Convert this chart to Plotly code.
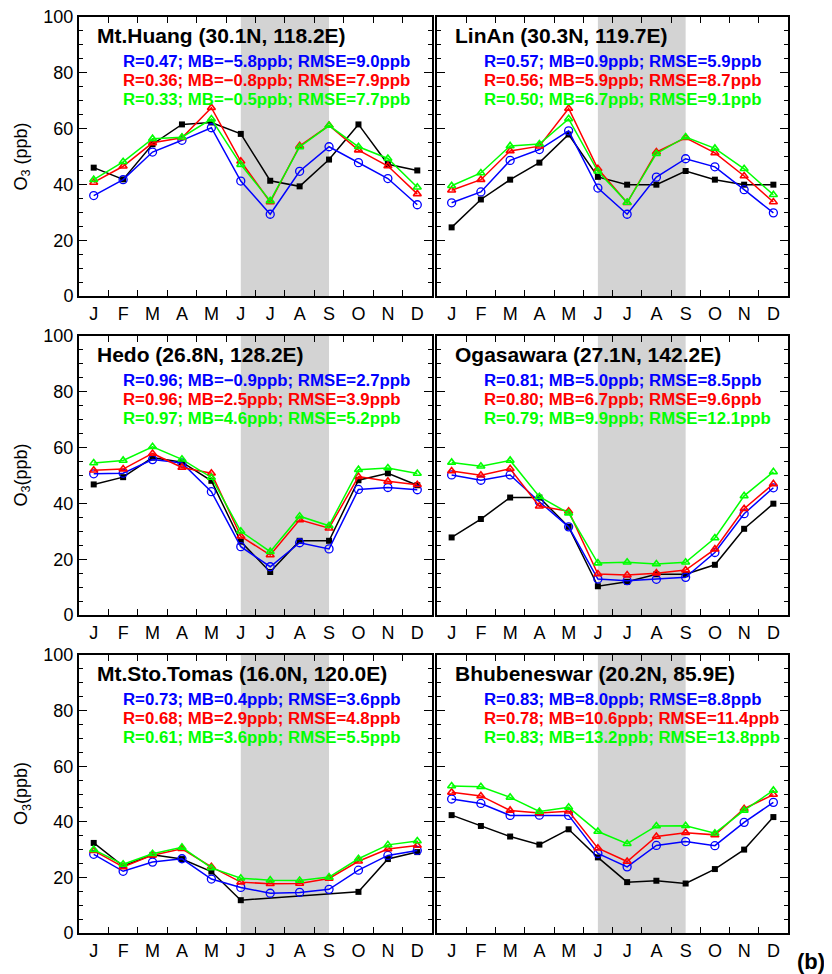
import plotly.graph_objects as go

months = ["J", "F", "M", "A", "M", "J", "J", "A", "S", "O", "N", "D"]

site_names = ["Mt.Huang (30.1N, 118.2E)", "LinAn (30.3N, 119.7E)",
              "Hedo (26.8N, 128.2E)", "Ogasawara (27.1N, 142.2E)",
              "Mt.Sto.Tomas (16.0N, 120.0E)", "Bhubeneswar (20.2N, 85.9E)"]

# Observations (black squares)
obs_huang = [46.0, 41.8, 54.4, 61.5, 62.2, 58.1, 41.3, 39.3, 48.9, 61.5, 47.2, 45.0]
obs_linan = [24.6, 34.6, 41.7, 47.8, 57.9, 42.7, 39.9, 39.9, 44.8, 41.7, 39.9, 39.9]
obs_hedo = [46.8, 49.4, 56.4, 54.8, 48.1, 26.3, 15.4, 26.6, 26.6, 48.3, 50.8, 46.5]
obs_ogasawara = [27.8, 34.4, 42.1, 42.1, 31.6, 10.3, 11.9, 14.6, 14.6, 18.0, 30.9, 39.9]
obs_tomas = [32.4, 24.1, 28.1, 26.6, 22.1, 11.8, None, None, None, 14.8, 26.6, 29.1]
obs_bhub = [42.4, 38.5, 34.7, 31.8, 37.3, 27.2, 18.3, 18.8, 17.8, 23.0, 30.0, 41.7]

# Model 1 (blue open circles)
blue_huang = [36.0, 41.7, 51.6, 55.8, 60.3, 41.2, 29.3, 44.7, 53.5, 47.8, 42.1, 32.7]
blue_linan = [33.4, 37.3, 48.6, 52.5, 59.2, 38.7, 29.3, 42.6, 49.2, 46.3, 38.1, 29.8]
blue_hedo = [50.6, 50.8, 55.7, 54.5, 44.2, 24.5, 17.3, 25.9, 23.7, 45.0, 45.7, 44.9]
blue_ogasawara = [50.2, 48.3, 50.2, 40.6, 31.6, 12.9, 12.3, 12.8, 13.5, 22.4, 36.3, 45.6]
blue_tomas = [28.3, 22.2, 25.5, 26.7, 19.4, 16.4, 14.3, 14.6, 15.7, 22.6, 27.9, 29.7]
blue_bhub = [48.2, 46.6, 42.3, 42.4, 42.3, 28.6, 23.8, 31.5, 32.9, 31.4, 39.8, 47.0]

# Model 2 (red triangles)
red_huang = [40.7, 46.5, 54.9, 56.7, 67.5, 48.3, 33.7, 53.8, 61.1, 52.3, 46.6, 36.6]
red_linan = [37.9, 41.7, 52.0, 53.7, 67.2, 45.6, 33.4, 51.6, 56.7, 51.3, 43.0, 33.7]
red_hedo = [51.9, 52.3, 57.9, 52.9, 50.8, 28.2, 21.5, 34.1, 31.1, 49.6, 47.9, 46.7]
red_ogasawara = [51.6, 50.1, 52.4, 39.0, 37.2, 14.7, 14.3, 15.0, 16.1, 23.6, 38.1, 47.0]
red_tomas = [29.6, 23.8, 28.0, 30.3, 23.8, 18.3, 17.7, 17.8, 19.6, 25.8, 30.2, 31.5]
red_bhub = [50.6, 49.3, 44.1, 43.2, 43.8, 30.5, 25.7, 34.7, 36.1, 35.3, 44.7, 49.8]

# Model 3 (green triangles)
green_huang = [41.7, 48.1, 56.4, 56.9, 63.4, 47.1, 34.1, 53.4, 61.1, 53.5, 49.3, 39.0]
green_linan = [39.5, 44.1, 53.8, 54.5, 63.5, 44.7, 33.5, 51.0, 57.0, 52.9, 45.6, 36.3]
green_hedo = [54.5, 55.4, 60.3, 55.8, 49.3, 30.0, 22.7, 35.4, 32.0, 52.1, 52.7, 50.7]
green_ogasawara = [54.7, 53.3, 55.4, 42.4, 36.5, 18.6, 18.9, 18.3, 18.9, 27.6, 42.7, 51.3]
green_tomas = [30.0, 24.7, 28.5, 30.8, 23.4, 19.7, 19.0, 18.9, 20.1, 26.7, 31.7, 33.1]
green_bhub = [52.9, 52.6, 48.8, 43.7, 45.2, 36.5, 32.1, 38.5, 38.6, 35.9, 44.1, 51.3]

stats_blue = ["R=0.47; MB=\u22125.8ppb; RMSE=9.0ppb", "R=0.57; MB=0.9ppb; RMSE=5.9ppb",
              "R=0.96; MB=\u22120.9ppb; RMSE=2.7ppb", "R=0.81; MB=5.0ppb; RMSE=8.5ppb",
              "R=0.73; MB=0.4ppb; RMSE=3.6ppb", "R=0.83; MB=8.0ppb; RMSE=8.8ppb"]
stats_red = ["R=0.36; MB=\u22120.8ppb; RMSE=7.9ppb", "R=0.56; MB=5.9ppb; RMSE=8.7ppb",
             "R=0.96; MB=2.5ppb; RMSE=3.9ppb", "R=0.80; MB=6.7ppb; RMSE=9.6ppb",
             "R=0.68; MB=2.9ppb; RMSE=4.8ppb", "R=0.78; MB=10.6ppb; RMSE=11.4ppb"]
stats_green = ["R=0.33; MB=\u22120.5ppb; RMSE=7.7ppb", "R=0.50; MB=6.7ppb; RMSE=9.1ppb",
               "R=0.97; MB=4.6ppb; RMSE=5.2ppb", "R=0.79; MB=9.9ppb; RMSE=12.1ppb",
               "R=0.61; MB=3.6ppb; RMSE=5.5ppb", "R=0.83; MB=13.2ppb; RMSE=13.8ppb"]

y_titles = ["O<sub>3</sub> (ppb)", "O<sub>3</sub>(ppb)", "O<sub>3</sub>(ppb)"]
y_ticks = [0, 20, 40, 60, 80, 100]

obs_all = [obs_huang, obs_linan, obs_hedo, obs_ogasawara, obs_tomas, obs_bhub]
blue_all = [blue_huang, blue_linan, blue_hedo, blue_ogasawara, blue_tomas, blue_bhub]
red_all = [red_huang, red_linan, red_hedo, red_ogasawara, red_tomas, red_bhub]
green_all = [green_huang, green_linan, green_hedo, green_ogasawara, green_tomas, green_bhub]

# page body has an 8px margin: work in figure coords = screen coords - 8
OFF = 8
W, H = 832 - OFF, 974 - OFF
ml, mr, mt, mb = 79 - OFF, 44, 17 - OFF, 41
pw = W - ml - mr
ph = H - mt - mb
col_px = [(79 - OFF, 432 - OFF), (437 - OFF, 788 - OFF)]
row_px = [(17 - OFF, 296 - OFF), (336 - OFF, 615 - OFF), (655 - OFF, 933 - OFF)]

FONT = "Liberation Sans, Arial, sans-serif"
BLUE, RED, GREEN = "#0000FF", "#FF0000", "#00FF00"

fig = go.Figure()
xi = list(range(12))
layout_axes = {}
annotations = []
shapes = []

for k in range(6):
    r, c = divmod(k, 2)
    n = k + 1
    xa = "x" if n == 1 else f"x{n}"
    ya = "y" if n == 1 else f"y{n}"
    xd = [(col_px[c][0] - ml) / pw, (col_px[c][1] - ml) / pw]
    yd = [1 - (row_px[r][1] - mt) / ph, 1 - (row_px[r][0] - mt) / ph]
    xkey = "xaxis" if n == 1 else f"xaxis{n}"
    ykey = "yaxis" if n == 1 else f"yaxis{n}"
    layout_axes[xkey] = dict(
        domain=xd, anchor=ya, range=[-0.5, 11.5],
        tickmode="array", tickvals=xi, ticktext=months, ticks="",
        tickfont=dict(size=18, color="black", family=FONT),
        ticklabelstandoff=0, ticklabeloverflow="allow",
        showline=True, linecolor="black", linewidth=2, mirror="ticks",
        showgrid=False, zeroline=False,
        minor=dict(tickmode="array", tickvals=[i + 0.5 for i in range(11)],
                   ticks="inside", ticklen=6, tickwidth=1.3, tickcolor="black",
                   showgrid=False),
    )
    layout_axes[ykey] = dict(
        domain=yd, anchor=xa, range=[0, 100],
        tickmode="array", tickvals=y_ticks, ticks="inside", ticklen=8,
        tickwidth=1.3, tickcolor="black",
        showticklabels=(c == 0), ticklabeloverflow="allow",
        tickfont=dict(size=18, color="black", family=FONT),
        showline=True, linecolor="black", linewidth=2, mirror="ticks",
        showgrid=False, zeroline=False,
        minor=dict(dtick=5, tick0=0, ticks="inside", ticklen=4, tickwidth=1.2,
                   tickcolor="black", showgrid=False),
    )
    # summer shading Jun-Sep
    shapes.append(dict(type="rect", xref=xa, yref=ya, x0=5, x1=8, y0=0, y1=100,
                       fillcolor="#D3D3D3", line=dict(width=0), layer="below"))

    fig.add_trace(go.Scatter(x=xi, y=obs_all[k], xaxis=xa, yaxis=ya, mode="lines+markers",
                             connectgaps=True, line=dict(color="black", width=1.5),
                             marker=dict(symbol="square", size=6, color="black"),
                             showlegend=False))
    fig.add_trace(go.Scatter(x=xi, y=blue_all[k], xaxis=xa, yaxis=ya, mode="lines+markers",
                             line=dict(color=BLUE, width=1.5),
                             marker=dict(symbol="circle-open", size=8, color=BLUE,
                                         line=dict(width=1.3, color=BLUE)),
                             showlegend=False))
    fig.add_trace(go.Scatter(x=xi, y=red_all[k], xaxis=xa, yaxis=ya, mode="lines+markers",
                             line=dict(color=RED, width=1.5),
                             marker=dict(symbol="triangle-up-open", size=7, color=RED,
                                         line=dict(width=1.6, color=RED)),
                             showlegend=False))
    fig.add_trace(go.Scatter(x=xi, y=green_all[k], xaxis=xa, yaxis=ya, mode="lines+markers",
                             line=dict(color=GREEN, width=1.5),
                             marker=dict(symbol="triangle-up-open", size=7, color=GREEN,
                                         line=dict(width=1.6, color=GREEN)),
                             showlegend=False))

    tx = 16 / (col_px[c][1] - col_px[c][0])
    sx = (42 if c == 0 else 45) / (col_px[c][1] - col_px[c][0])
    hgt = row_px[r][1] - row_px[r][0]
    annotations.append(dict(xref=f"{xa} domain", yref=f"{ya} domain", x=tx, y=1 - 18.5 / hgt,
                            xanchor="left", yanchor="middle", showarrow=False,
                            text=f"<b>{site_names[k]}</b>",
                            font=dict(size=21, color="black", family=FONT)))
    for j, (txt, col) in enumerate([(stats_blue[k], BLUE), (stats_red[k], RED),
                                    (stats_green[k], GREEN)]):
        annotations.append(dict(xref=f"{xa} domain", yref=f"{ya} domain", x=sx,
                                y=1 - (44.5 + 19.2 * j) / hgt,
                                xanchor="left", yanchor="middle", showarrow=False,
                                text=f"<b>{txt}</b>",
                                font=dict(size=16.8, color=col, family=FONT)))
    if c == 0:
        annotations.append(dict(xref="paper", yref=f"{ya} domain", x=(22 - 79) / pw, y=0.5,
                                xanchor="center", yanchor="middle", showarrow=False,
                                textangle=-90, text=y_titles[r],
                                font=dict(size=18, color="black", family=FONT)))

annotations.append(dict(xref="paper", yref="paper", x=(811 - 79) / pw, y=-(962 - 933) / ph,
                        xanchor="center", yanchor="middle", showarrow=False,
                        text="<b>(b)</b>", font=dict(size=22, color="black", family=FONT)))

fig.update_layout(width=W, height=H, margin=dict(l=ml, r=mr, t=mt, b=mb, autoexpand=False),
                  paper_bgcolor="white", plot_bgcolor="white",
                  font=dict(family=FONT, color="black"),
                  annotations=annotations, shapes=shapes, **layout_axes)

fig.write_html("out.html")
